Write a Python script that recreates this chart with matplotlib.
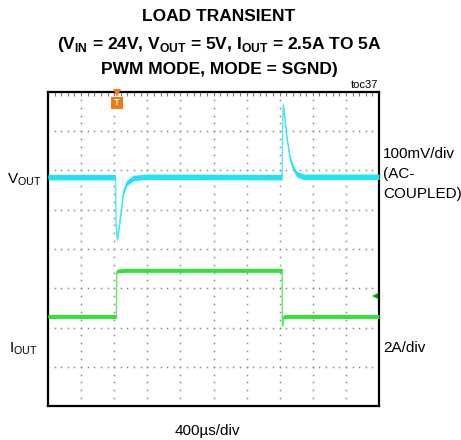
import numpy as np
import matplotlib
matplotlib.use("Agg")
import matplotlib.pyplot as plt

plt.rcParams['font.family'] = ['Liberation Sans', 'DejaVu Sans']
plt.rcParams['mathtext.fontset'] = 'custom'
plt.rcParams['mathtext.rm'] = 'Liberation Sans'
plt.rcParams['mathtext.bf'] = 'Liberation Sans:bold'

# VOUT (AC-coupled), deviation in mV, 100mV/div
t_vout = [0, 816, 822, 837, 870, 910, 951, 1031, 1193,
          2829, 2836, 2843, 2885, 2924, 2965, 3005, 3085, 4000]
vout_mv = [0, 0, -120, -158, -109, -40, -15, -2, 1,
           0, 150, 184, 103, 48, 23, 8, 1, 1]

# IOUT in A, 2A/div
t_iout = [0, 826, 830, 842, 930, 2829, 2831, 2834, 2848, 4000]
iout_a = [2.5, 2.5, 4.78, 4.82, 4.85, 4.85, 2.5, 2.02, 2.5, 2.5]

t_trig = 828
us_per_div = 400
vout_offset = 5.83   # divisions from bottom
iout_offset = 1.03
gnd_marker = 2.81

fig = plt.figure(figsize=(4.61, 4.40), dpi=100)
ax = fig.add_axes([48/461, 34/440, 331/461, 314/440])
ax.set_xlim(0, 10*us_per_div)
ax.set_ylim(0, 8)

# dotted graticule
dots_x = np.arange(0, 10*us_per_div + 1, us_per_div/5)
dots_y = np.arange(0, 8.01, 0.2)
for k in range(1, 10):
    ax.plot([k*us_per_div]*len(dots_y), dots_y, ls='none', marker='s',
            ms=1.1, mew=0, color='#8c8c8c', zorder=1)
for k in range(1, 8):
    ax.plot(dots_x, [k]*len(dots_x), ls='none', marker='s',
            ms=1.1, mew=0, color='#8c8c8c', zorder=1)

def trace(t, y, color, band):
    # scope traces: thin line plus a vertical band for the noise width
    y = np.asarray(y)
    ax.plot(t, y, color=color, lw=1.0, alpha=0.75, zorder=3)
    ax.fill_between(t, y - band, y + band, color=color, lw=0, zorder=3)

trace(t_vout, vout_offset + np.array(vout_mv)/100, '#1fe4f7', 0.07)
trace(t_iout, iout_offset + np.array(iout_a)/2, '#2fe52f', 0.05)

# trigger and ground markers
ax.plot([t_trig], [7.97], marker='v', ms=6, color='#f07c10', mew=0,
        clip_on=False, zorder=5)
ax.plot([t_trig], [7.72], marker='s', ms=8.5, color='#f07c10', mew=0,
        clip_on=False, zorder=5)
ax.text(t_trig, 7.72, 'T', color='white', fontsize=6.5, fontweight='bold',
        ha='center', va='center', zorder=6)
ax.plot([10*us_per_div - 45], [gnd_marker], marker='<', ms=5, color='#10a010',
        mew=0, zorder=5)

ax.set_xticks([])
ax.set_yticks([])
ax.set_xticks(dots_x, minor=True)
ax.tick_params(which='minor', direction='in', length=3, width=0.8,
               color='#777777', top=True, bottom=False, labeltop=False,
               labelbottom=False)
for s in ax.spines.values():
    s.set_linewidth(1.6)
    s.set_color('black')

W, H = 461, 440
def ftext(x, y, s, **kw):
    fig.text(x/W, 1 - y/H, s, **kw)

ftext(219, 21, 'LOAD TRANSIENT', ha='center', va='baseline',
      fontsize=12.5, fontweight='bold')
ftext(219, 49, r'(V$_{\mathbf{IN}}$ = 24V, V$_{\mathbf{OUT}}$ = 5V, '
      r'I$_{\mathbf{OUT}}$ = 2.5A TO 5A', ha='center', va='baseline',
      fontsize=12.5, fontweight='bold')
ftext(219, 74, 'PWM MODE, MODE = SGND)', ha='center', va='baseline',
      fontsize=12.5, fontweight='bold')
ftext(378, 88, 'toc37', ha='right', va='baseline', fontsize=8)

ftext(7, 183, r'V$_{\mathrm{OUT}}$', va='baseline', fontsize=11)
ftext(9, 352, r'I$_{\mathrm{OUT}}$', va='baseline', fontsize=11)
ftext(383, 158, '100mV/div', va='baseline', fontsize=11)
ftext(383, 178, '(AC-', va='baseline', fontsize=11)
ftext(383, 198, 'COUPLED)', va='baseline', fontsize=11)
ftext(383, 352, '2A/div', va='baseline', fontsize=11)
ftext(207, 435, '400µs/div', ha='center', va='baseline', fontsize=11)

fig.savefig('out.png', dpi=100)
